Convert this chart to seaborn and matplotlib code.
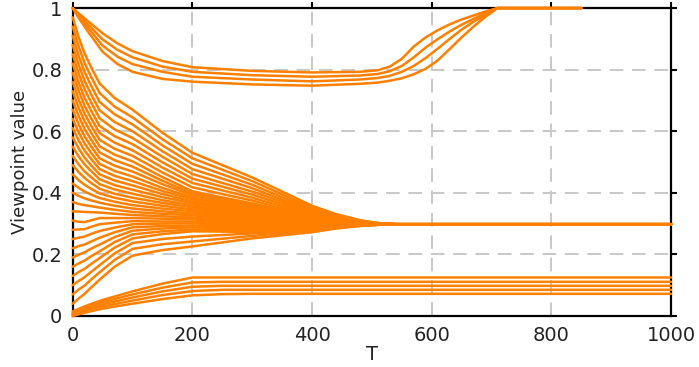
import pandas as pd
import matplotlib
matplotlib.use("Agg")
import matplotlib.pyplot as plt
import seaborn as sns

LINE_COLOR = "#ff8000"

# upper cluster: falls to ~0.77 then climbs to 1 (drawn up to T=850)
T_TOP = [0, 10, 25, 50, 75, 100, 150, 200, 300, 400, 480, 510, 530, 550, 570,
         590, 610, 630, 650, 670, 690, 710, 850]
TOP_VALUES = [
    [1.0, 0.983, 0.958, 0.918, 0.885, 0.860, 0.828, 0.808, 0.796, 0.791, 0.793, 0.798,
     0.810, 0.835, 0.875, 0.905, 0.928, 0.947, 0.963, 0.976, 0.989, 1.0, 1.0],
    [1.0, 0.978, 0.948, 0.898, 0.864, 0.840, 0.810, 0.793, 0.782, 0.777, 0.781, 0.786,
     0.795, 0.812, 0.840, 0.872, 0.899, 0.924, 0.946, 0.965, 0.983, 1.0, 1.0],
    [1.0, 0.974, 0.938, 0.878, 0.842, 0.818, 0.793, 0.777, 0.768, 0.762, 0.768, 0.773,
     0.780, 0.793, 0.812, 0.838, 0.868, 0.900, 0.930, 0.956, 0.978, 1.0, 1.0],
    [1.0, 0.968, 0.925, 0.858, 0.818, 0.793, 0.770, 0.761, 0.752, 0.748, 0.754, 0.758,
     0.764, 0.772, 0.785, 0.803, 0.830, 0.867, 0.905, 0.940, 0.972, 1.0, 1.0],
]

# middle cluster: converges to ~0.3
T_MID = [0, 10, 20, 30, 45, 70, 100, 150, 200, 250, 300, 350, 400, 440, 480, 510]
MID_VALUES = [
    [0.97, 0.905, 0.852, 0.811, 0.755, 0.708, 0.670, 0.595, 0.530, 0.490, 0.450, 0.404, 0.358, 0.331, 0.311, 0.302],
    [0.94, 0.875, 0.821, 0.780, 0.724, 0.680, 0.645, 0.574, 0.512, 0.475, 0.438, 0.395, 0.352, 0.328, 0.310, 0.301],
    [0.91, 0.845, 0.792, 0.751, 0.695, 0.655, 0.622, 0.554, 0.494, 0.460, 0.426, 0.386, 0.347, 0.325, 0.309, 0.301],
    [0.88, 0.816, 0.763, 0.723, 0.668, 0.630, 0.600, 0.535, 0.477, 0.446, 0.415, 0.378, 0.342, 0.322, 0.308, 0.301],
    [0.85, 0.787, 0.736, 0.697, 0.642, 0.606, 0.578, 0.517, 0.461, 0.432, 0.404, 0.371, 0.338, 0.320, 0.307, 0.300],
    [0.82, 0.758, 0.708, 0.670, 0.617, 0.584, 0.558, 0.499, 0.446, 0.420, 0.394, 0.364, 0.334, 0.318, 0.306, 0.300],
    [0.79, 0.731, 0.682, 0.645, 0.594, 0.563, 0.538, 0.482, 0.432, 0.408, 0.384, 0.357, 0.330, 0.316, 0.305, 0.300],
    [0.76, 0.703, 0.657, 0.621, 0.572, 0.543, 0.520, 0.466, 0.418, 0.396, 0.375, 0.350, 0.326, 0.313, 0.304, 0.300],
    [0.73, 0.676, 0.632, 0.598, 0.551, 0.524, 0.502, 0.451, 0.405, 0.385, 0.366, 0.344, 0.323, 0.312, 0.304, 0.299],
    [0.70, 0.649, 0.607, 0.575, 0.531, 0.506, 0.485, 0.439, 0.398, 0.379, 0.361, 0.340, 0.320, 0.310, 0.303, 0.299],
    [0.67, 0.622, 0.583, 0.553, 0.512, 0.488, 0.469, 0.428, 0.392, 0.374, 0.357, 0.337, 0.318, 0.309, 0.302, 0.299],
    [0.64, 0.596, 0.560, 0.532, 0.494, 0.471, 0.453, 0.416, 0.385, 0.368, 0.352, 0.334, 0.316, 0.308, 0.302, 0.299],
    [0.61, 0.570, 0.537, 0.512, 0.477, 0.455, 0.438, 0.406, 0.379, 0.363, 0.347, 0.330, 0.314, 0.307, 0.301, 0.299],
    [0.58, 0.544, 0.514, 0.491, 0.460, 0.440, 0.424, 0.396, 0.372, 0.357, 0.343, 0.327, 0.312, 0.306, 0.301, 0.299],
    [0.55, 0.518, 0.492, 0.472, 0.444, 0.425, 0.410, 0.386, 0.366, 0.352, 0.338, 0.324, 0.310, 0.305, 0.301, 0.299],
    [0.52, 0.492, 0.469, 0.452, 0.428, 0.411, 0.397, 0.376, 0.359, 0.346, 0.333, 0.320, 0.308, 0.304, 0.300, 0.299],
    [0.49, 0.467, 0.448, 0.433, 0.413, 0.397, 0.384, 0.367, 0.353, 0.341, 0.329, 0.317, 0.306, 0.302, 0.300, 0.298],
    [0.46, 0.441, 0.426, 0.414, 0.398, 0.384, 0.372, 0.358, 0.346, 0.335, 0.324, 0.314, 0.304, 0.301, 0.299, 0.298],
    [0.43, 0.416, 0.404, 0.395, 0.383, 0.371, 0.360, 0.349, 0.340, 0.329, 0.319, 0.310, 0.302, 0.300, 0.299, 0.298],
    [0.40, 0.390, 0.382, 0.376, 0.368, 0.358, 0.349, 0.340, 0.333, 0.324, 0.315, 0.307, 0.300, 0.299, 0.298, 0.298],
    [0.37, 0.364, 0.360, 0.357, 0.352, 0.345, 0.338, 0.332, 0.327, 0.318, 0.310, 0.304, 0.298, 0.298, 0.298, 0.298],
    [0.34, 0.339, 0.338, 0.337, 0.336, 0.332, 0.328, 0.324, 0.320, 0.312, 0.305, 0.300, 0.296, 0.297, 0.298, 0.298],
    [0.31, 0.306, 0.305, 0.310, 0.318, 0.318, 0.318, 0.316, 0.314, 0.307, 0.301, 0.297, 0.294, 0.296, 0.297, 0.298],
    [0.28, 0.281, 0.282, 0.289, 0.298, 0.303, 0.308, 0.307, 0.307, 0.301, 0.296, 0.294, 0.292, 0.295, 0.297, 0.298],
    [0.25, 0.254, 0.258, 0.266, 0.276, 0.287, 0.298, 0.300, 0.301, 0.296, 0.291, 0.290, 0.290, 0.294, 0.296, 0.298],
    [0.22, 0.227, 0.232, 0.241, 0.254, 0.272, 0.288, 0.292, 0.294, 0.290, 0.287, 0.287, 0.288, 0.293, 0.296, 0.297],
    [0.19, 0.199, 0.207, 0.218, 0.232, 0.256, 0.277, 0.284, 0.288, 0.285, 0.282, 0.284, 0.286, 0.291, 0.295, 0.297],
    [0.16, 0.171, 0.180, 0.193, 0.210, 0.240, 0.265, 0.275, 0.281, 0.279, 0.277, 0.280, 0.284, 0.290, 0.295, 0.297],
    [0.13, 0.143, 0.153, 0.168, 0.188, 0.222, 0.252, 0.266, 0.275, 0.274, 0.273, 0.277, 0.282, 0.289, 0.294, 0.297],
    [0.10, 0.114, 0.126, 0.142, 0.165, 0.203, 0.237, 0.250, 0.258, 0.263, 0.268, 0.273, 0.279, 0.288, 0.294, 0.296],
    [0.07, 0.086, 0.099, 0.117, 0.142, 0.182, 0.218, 0.233, 0.242, 0.251, 0.260, 0.268, 0.276, 0.286, 0.293, 0.296],
    [0.04, 0.057, 0.072, 0.091, 0.118, 0.160, 0.196, 0.214, 0.226, 0.239, 0.252, 0.262, 0.272, 0.284, 0.292, 0.296],
]
MID_CONSENSUS_T = [540, 1000]
MID_CONSENSUS = 0.298

# lower cluster: small values that settle early
T_BOT = [0, 25, 50, 100, 150, 200, 250, 300, 1000]
BOT_VALUES = [
    [0.015, 0.035, 0.052, 0.080, 0.105, 0.125, 0.125, 0.125, 0.125],
    [0.010, 0.030, 0.045, 0.070, 0.092, 0.109, 0.111, 0.111, 0.111],
    [0.008, 0.025, 0.038, 0.060, 0.080, 0.095, 0.098, 0.098, 0.098],
    [0.005, 0.020, 0.031, 0.050, 0.068, 0.081, 0.085, 0.085, 0.085],
    [0.000, 0.013, 0.024, 0.040, 0.055, 0.067, 0.071, 0.072, 0.072],
]

X_TICKS = [0, 200, 400, 600, 800, 1000]
Y_TICKS = [0, 0.2, 0.4, 0.6, 0.8, 1]
Y_TICK_LABELS = ["0", "0.2", "0.4", "0.6", "0.8", "1"]


def build_frame():
    rows = []
    for i, vals in enumerate(TOP_VALUES):
        for t, v in zip(T_TOP, vals):
            rows.append({"line": f"top{i}", "T": t, "value": v})
    for i, vals in enumerate(MID_VALUES):
        for t, v in zip(T_MID, vals):
            rows.append({"line": f"mid{i}", "T": t, "value": v})
        for t in MID_CONSENSUS_T:
            rows.append({"line": f"mid{i}", "T": t, "value": MID_CONSENSUS})
    for i, vals in enumerate(BOT_VALUES):
        for t, v in zip(T_BOT, vals):
            rows.append({"line": f"bot{i}", "T": t, "value": v})
    return pd.DataFrame(rows)


sns.set_style("white")
plt.rcParams["font.family"] = ["DejaVu Sans"]

df = build_frame()

fig, ax = plt.subplots(figsize=(6.99, 3.67), dpi=100)
fig.subplots_adjust(left=0.104, right=0.96, bottom=0.139, top=0.978)

sns.lineplot(data=df, x="T", y="value", units="line", estimator=None,
             color=LINE_COLOR, linewidth=1.8, legend=False,
             clip_on=False, zorder=5, ax=ax)

ax.set_xlim(0, 1000)
ax.set_ylim(0, 1)
ax.set_xticks(X_TICKS)
ax.set_yticks(Y_TICKS)
ax.set_yticklabels(Y_TICK_LABELS)

ax.grid(True, linestyle=(0, (7, 4.5)), color="#c8c8c8", linewidth=1.4)
ax.set_axisbelow(True)

for side in ["top", "bottom", "left", "right"]:
    ax.spines[side].set_visible(True)
    ax.spines[side].set_color("black")
    ax.spines[side].set_linewidth(1.6)

ax.tick_params(direction="out", length=4, width=1.5, top=True, right=True,
               labeltop=False, labelright=False, labelsize=14, colors="black")
ax.tick_params(axis="both", labelcolor="#222222")

ax.set_xlabel("T", fontsize=14, labelpad=0, color="#222222")
ax.set_ylabel("Viewpoint value", fontsize=13, labelpad=2, color="#222222")

plt.savefig("out.png", dpi=100)
plt.close()
